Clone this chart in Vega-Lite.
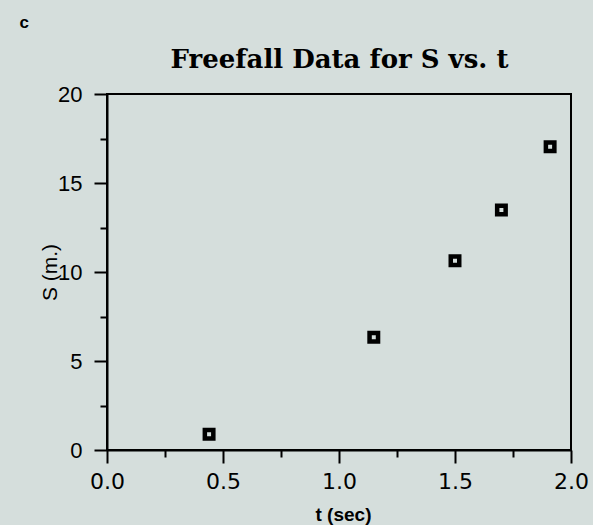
{
  "$schema": "https://vega.github.io/schema/vega-lite/v6.json",
  "autosize": {"type": "none"},
  "padding": {"left": 107, "top": 94, "right": 22, "bottom": 75},
  "width": 464,
  "height": 356,
  "background": "#d5dedc",
  "config": {
    "view": {"stroke": "black", "strokeWidth": 2},
    "axis": {"grid": false, "domainColor": "black", "tickColor": "black", "labelColor": "black", "titleColor": "black", "domainWidth": 2, "tickWidth": 2}
  },
  "data": {
    "values": [
      {"t": 0.44, "S": 0.88},
      {"t": 1.15, "S": 6.33},
      {"t": 1.50, "S": 10.63},
      {"t": 1.70, "S": 13.48},
      {"t": 1.91, "S": 17.04}
    ]
  },
  "layer": [
    {
      "mark": {"type": "point", "shape": "square", "filled": false, "stroke": "black", "strokeWidth": 4.5, "size": 72, "opacity": 1},
      "encoding": {
        "x": {"field": "t", "type": "quantitative", "scale": {"domain": [0, 2], "nice": false, "zero": false},
          "axis": {"orient": "bottom", "values": [0, 0.5, 1, 1.5, 2], "format": ".1f", "tickSize": 13, "labelFont": "DejaVu Sans", "labelFontSize": 22, "labelPadding": 8, "labelFlush": false,
            "title": "t (sec)", "titleFont": "Liberation Sans", "titleFontWeight": "bold", "titleFontSize": 19, "titleX": 236, "titleY": 70, "titleBaseline": "alphabetic"}},
        "y": {"field": "S", "type": "quantitative", "scale": {"domain": [0, 20], "nice": false},
          "axis": {"orient": "left", "values": [0, 5, 10, 15, 20], "tickSize": 13, "labelFont": "Liberation Sans", "labelFontSize": 22, "labelPadding": 12, "labelFlush": false,
            "title": "S (m.)", "titleFont": "Liberation Sans", "titleFontWeight": "normal", "titleFontSize": 21, "titleX": -51, "titleY": 178, "titleBaseline": "alphabetic", "titleAlign": "center"}}
      }
    },
    {
      "mark": {"type": "point", "opacity": 0},
      "encoding": {
        "x": {"field": "t", "type": "quantitative",
          "axis": {"orient": "bottom", "values": [0.25, 0.75, 1.25, 1.75], "tickSize": 7, "labels": false, "domain": false,
            "title": "c", "titleFont": "Liberation Sans", "titleFontWeight": "bold", "titleFontSize": 17, "titleX": -88, "titleY": -423, "titleAlign": "left", "titleBaseline": "alphabetic"}},
        "y": {"field": "S", "type": "quantitative",
          "axis": {"orient": "left", "values": [2.5, 7.5, 12.5, 17.5], "tickSize": 7, "labels": false, "domain": false, "title": null}}
      }
    },
    {
      "mark": {"type": "point", "opacity": 0},
      "encoding": {
        "x": {"field": "t", "type": "quantitative",
          "axis": {"orient": "top", "ticks": false, "labels": false, "domain": false,
            "title": "Freefall Data for S vs. t", "titleFont": "DejaVu Serif", "titleFontWeight": "bold", "titleFontSize": 26, "titleX": 232, "titleY": -27, "titleAlign": "center", "titleBaseline": "alphabetic"}},
        "y": {"field": "S", "type": "quantitative", "axis": null}
      }
    }
  ],
  "resolve": {"axis": {"x": "independent", "y": "independent"}}
}
